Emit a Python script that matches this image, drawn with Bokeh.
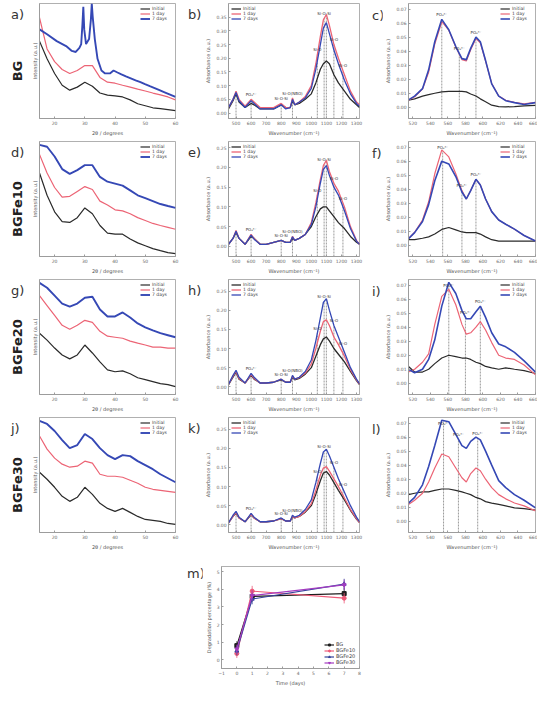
import numpy as np
from bokeh.plotting import figure
from bokeh.layouts import row, column, Spacer
from bokeh.models import Range1d, PrintfTickFormatter, Div
from bokeh.core.properties import value
from bokeh.embed import file_html
from bokeh.resources import INLINE

# ---------------- data ----------------
SERIES = ["Initial", "1 day", "7 days"]
SAMPLES = ["BG", "BGFe10", "BGFe20", "BGFe30"]
LETTERS = ["a)", "b)", "c)", "d)", "e)", "f)", "g)", "h)", "i)", "j)", "k)", "l)", "m)"]

# XRD (2theta, arbitrary intensity)
XRD_X = [15, 17.5, 20, 22.5, 25, 27.5, 30, 32.5, 35, 37.5, 40, 42.5, 45, 47.5, 50, 52.5, 55, 57.5, 60]
XRD_TICKS = [20, 30, 40, 50, 60]
A_BLUE_X = [15, 17.5, 20.7, 23.8, 25.7, 27.0, 28.2, 28.8, 29.2, 29.5, 29.8, 30.4, 31.4, 32.0, 32.3, 32.6, 33.3,
            34.2, 35.5, 36.7, 38.3, 39.5, 40.8, 42.1, 43.6, 45.2, 46.8, 48.4, 49.9, 51.5, 53.1, 54.7, 56.2, 57.8, 60]
A_BLUE = [79.8, 75.4, 69.3, 64.9, 60.5, 59.6, 63.2, 66.7, 84.2, 100, 79.8, 66.7, 71.1, 88.6, 103, 91.2, 71.1,
          53.5, 43, 40.4, 40.4, 43, 41.2, 39.5, 37.7, 36, 34.2, 32.5, 30.7, 28.9, 27.2, 25.4, 23.7, 21.9, 19.3]
A_RED = [90.3, 62.3, 50.9, 43.9, 40.3, 43, 47.4, 47.4, 36.8, 32.5, 31.6, 29.8, 28.1, 26.3, 24.6, 22.8, 21.1, 19.3, 16.7]
A_BLACK = [69.3, 53.5, 40.3, 29.8, 25.4, 28.1, 32.4, 28.9, 22.8, 21, 20.2, 19.3, 16.7, 13.2, 11.4, 9.6, 8.8, 7.9, 7.0]
D_BLUE = [100, 98.3, 89.6, 78.3, 74, 77.4, 81.8, 81.8, 71.3, 67, 65.3, 63.5, 59.2, 54.8, 52.2, 49.6, 47, 45.2, 43.5]
D_RED = [91.4, 74.8, 61.8, 53.1, 53.9, 58.3, 62.6, 60, 49.6, 46.1, 41.8, 40.9, 38.3, 34.8, 32.2, 29.6, 27.8, 26.1, 24.4]
D_BLACK = [74.8, 54.8, 40, 31.3, 30.5, 34.8, 43.5, 38.3, 27.8, 20.9, 20, 20, 15.7, 12.2, 9.6, 7, 5.2, 3.5, 2.6]
G_BLUE = [100, 95.6, 88.5, 81.4, 78.8, 81.4, 86.7, 87.6, 76.1, 69.9, 69.9, 73.5, 69, 63.7, 60.2, 57.5, 54.9, 53.1, 51.3]
G_RED = [88.5, 79.7, 70.8, 62, 58.4, 62, 66.4, 64.6, 56.6, 52.2, 51.3, 50.4, 47.8, 46, 44.3, 42.5, 42.5, 41.6, 41.6]
G_BLACK = [54.9, 48.7, 41.6, 35.4, 31.9, 35.4, 44.3, 37.2, 29.2, 22.1, 20.4, 21.2, 18.6, 15, 13.3, 11.5, 9.7, 8.8, 7.1]
J_BLUE = [100, 97.2, 90.9, 82.8, 75.6, 78.3, 88.2, 83.7, 75.6, 69.3, 65.7, 69.3, 68.4, 63.9, 60.3, 56.7, 52.2, 48.6, 45]
J_RED = [86.4, 74.7, 66.6, 61.2, 58.5, 59.4, 63.9, 62.1, 52.2, 50.4, 50.4, 49.5, 46.8, 44.1, 40.5, 38.7, 37.8, 36.9, 36]
J_BLACK = [54, 47.7, 40.5, 32.4, 27.9, 31.5, 40.5, 34.2, 26.1, 21.6, 18.9, 21.6, 18, 14.4, 11.7, 10.8, 9.9, 8.1, 7.2]

# FTIR (wavenumber, absorbance)
FTIR_W = [450, 480, 500, 520, 560, 600, 620, 660, 700, 750, 800, 830, 860, 875, 890, 920, 960, 1000, 1030,
          1060, 1080, 1100, 1120, 1150, 1180, 1220, 1260, 1300, 1320]
FTIR_TICKS = [500, 600, 700, 800, 900, 1000, 1100, 1200, 1300]
FTIR_PEAKS = [500, 600, 800, 875, 1040, 1085, 1100, 1150, 1210]
FTIR_LABELS = ["", "PO\u2084\u00b3\u207b", "Si-O-Si", "Si-O(NBO)", "Si-O", "Si-O-Si", "", "Si-O", "Si-O"]
B_RED = [0.02, 0.05, 0.08, 0.05, 0.025, 0.05, 0.04, 0.02, 0.02, 0.02, 0.035, 0.02, 0.02, 0.055, 0.03, 0.04, 0.06,
         0.10, 0.18, 0.28, 0.34, 0.36, 0.32, 0.25, 0.20, 0.14, 0.08, 0.04, 0.03]
B_BLUE = [0.02, 0.05, 0.075, 0.045, 0.02, 0.045, 0.035, 0.015, 0.015, 0.015, 0.03, 0.015, 0.02, 0.05, 0.03, 0.04,
          0.055, 0.09, 0.16, 0.25, 0.31, 0.33, 0.29, 0.23, 0.18, 0.12, 0.07, 0.035, 0.025]
B_BLACK = [0.015, 0.045, 0.07, 0.04, 0.02, 0.035, 0.03, 0.015, 0.015, 0.015, 0.03, 0.02, 0.02, 0.045, 0.03, 0.035,
           0.05, 0.07, 0.11, 0.16, 0.18, 0.19, 0.18, 0.14, 0.11, 0.08, 0.05, 0.03, 0.02]
E_RED = [0.005, 0.02, 0.04, 0.02, 0.005, 0.03, 0.02, 0.005, 0.005, 0.01, 0.015, 0.01, 0.01, 0.025, 0.015, 0.02,
         0.03, 0.06, 0.11, 0.17, 0.205, 0.218, 0.19, 0.16, 0.14, 0.10, 0.05, 0.015, 0.005]
E_BLUE = [0.005, 0.02, 0.038, 0.02, 0.005, 0.028, 0.018, 0.005, 0.005, 0.01, 0.015, 0.01, 0.01, 0.024, 0.015, 0.02,
          0.03, 0.055, 0.10, 0.16, 0.195, 0.205, 0.18, 0.15, 0.13, 0.09, 0.045, 0.013, 0.005]
E_BLACK = [0.005, 0.02, 0.035, 0.02, 0.005, 0.025, 0.02, 0.005, 0.005, 0.01, 0.015, 0.01, 0.01, 0.02, 0.015, 0.02,
           0.03, 0.05, 0.075, 0.095, 0.10, 0.10, 0.09, 0.075, 0.06, 0.045, 0.025, 0.01, 0.005]
H_BLUE = [0.006, 0.03, 0.043, 0.025, 0.01, 0.035, 0.025, 0.01, 0.01, 0.012, 0.02, 0.012, 0.012, 0.03, 0.02, 0.025,
          0.04, 0.07, 0.12, 0.18, 0.22, 0.23, 0.20, 0.16, 0.13, 0.09, 0.05, 0.02, 0.008]
H_RED = [0.006, 0.028, 0.04, 0.022, 0.01, 0.032, 0.022, 0.01, 0.01, 0.012, 0.02, 0.012, 0.012, 0.028, 0.02, 0.024,
         0.036, 0.06, 0.10, 0.145, 0.17, 0.175, 0.16, 0.13, 0.11, 0.08, 0.045, 0.018, 0.007]
H_BLACK = [0.006, 0.025, 0.038, 0.02, 0.01, 0.03, 0.02, 0.01, 0.01, 0.012, 0.018, 0.012, 0.012, 0.025, 0.018, 0.022,
           0.033, 0.05, 0.08, 0.11, 0.125, 0.13, 0.12, 0.10, 0.085, 0.065, 0.04, 0.016, 0.006]
K_BLUE = [0.005, 0.025, 0.035, 0.02, 0.008, 0.03, 0.02, 0.008, 0.008, 0.01, 0.018, 0.01, 0.01, 0.025, 0.02, 0.025,
          0.04, 0.065, 0.11, 0.16, 0.19, 0.197, 0.18, 0.15, 0.12, 0.085, 0.05, 0.02, 0.008]
K_RED = [0.005, 0.022, 0.032, 0.018, 0.008, 0.028, 0.018, 0.008, 0.008, 0.01, 0.016, 0.01, 0.01, 0.022, 0.018, 0.022,
         0.035, 0.055, 0.09, 0.13, 0.148, 0.152, 0.14, 0.12, 0.10, 0.07, 0.04, 0.016, 0.006]
K_BLACK = [0.005, 0.022, 0.03, 0.018, 0.008, 0.026, 0.018, 0.008, 0.008, 0.01, 0.016, 0.01, 0.01, 0.02, 0.018, 0.022,
           0.033, 0.05, 0.08, 0.115, 0.135, 0.139, 0.13, 0.11, 0.09, 0.065, 0.038, 0.015, 0.006]

# FTIR detail 515-660 cm-1
PO_W = [515, 522, 531, 538, 545, 553, 561, 569, 576, 581, 586, 592, 597, 603, 610, 618, 626, 636, 647, 660]
PO_TICKS = [520, 540, 560, 580, 600, 620, 640, 660]
C_BLUE = [0.0053, 0.008, 0.0133, 0.0267, 0.0467, 0.0627, 0.0553, 0.0433, 0.0347, 0.034, 0.042, 0.05, 0.0467,
          0.0333, 0.0167, 0.008, 0.0047, 0.0033, 0.002, 0.0033]
C_RED = [0.005, 0.0075, 0.013, 0.025, 0.045, 0.061, 0.055, 0.043, 0.034, 0.033, 0.041, 0.049, 0.046, 0.033, 0.017,
         0.008, 0.005, 0.0035, 0.0025, 0.0035]
C_BLACK = [0.005, 0.006, 0.008, 0.009, 0.010, 0.011, 0.0113, 0.0113, 0.0113, 0.011, 0.0095, 0.008, 0.006, 0.004,
           0.0015, 0.0005, 0.0003, 0.0005, 0.001, 0.0013]
F_RED = [0.0047, 0.0093, 0.018, 0.031, 0.051, 0.068, 0.063, 0.051, 0.039, 0.033, 0.039, 0.047, 0.043, 0.033, 0.024,
         0.018, 0.015, 0.0115, 0.007, 0.003]
F_BLUE = [0.0047, 0.009, 0.017, 0.029, 0.046, 0.060, 0.058, 0.049, 0.038, 0.033, 0.039, 0.047, 0.043, 0.033, 0.024,
          0.018, 0.015, 0.0115, 0.007, 0.003]
F_BLACK = [0.004, 0.004, 0.005, 0.006, 0.008, 0.0113, 0.0127, 0.011, 0.0095, 0.009, 0.009, 0.009, 0.008, 0.006,
           0.004, 0.003, 0.003, 0.003, 0.003, 0.003]
I_BLUE = [0.01, 0.0075, 0.01, 0.017, 0.031, 0.055, 0.072, 0.064, 0.052, 0.046, 0.046, 0.051, 0.055, 0.047, 0.036,
          0.028, 0.026, 0.022, 0.016, 0.008]
I_RED = [0.008, 0.01, 0.015, 0.021, 0.042, 0.062, 0.067, 0.056, 0.042, 0.035, 0.036, 0.04, 0.044, 0.038, 0.029,
         0.02, 0.018, 0.017, 0.013, 0.006]
I_BLACK = [0.012, 0.008, 0.008, 0.01, 0.014, 0.018, 0.02, 0.019, 0.018, 0.018, 0.017, 0.015, 0.014, 0.012, 0.011,
           0.01, 0.011, 0.01, 0.009, 0.007]
L_BLUE = [0.013, 0.017, 0.026, 0.039, 0.054, 0.072, 0.071, 0.062, 0.054, 0.052, 0.057, 0.06, 0.058, 0.05, 0.04,
          0.029, 0.024, 0.019, 0.015, 0.0096]
L_RED = [0.012, 0.015, 0.02, 0.028, 0.038, 0.048, 0.046, 0.038, 0.031, 0.028, 0.034, 0.038, 0.036, 0.03, 0.024,
         0.019, 0.016, 0.013, 0.011, 0.0074]
L_BLACK = [0.019, 0.02, 0.021, 0.021, 0.022, 0.023, 0.023, 0.022, 0.021, 0.02, 0.019, 0.017, 0.016, 0.014, 0.013,
           0.012, 0.011, 0.0096, 0.009, 0.008]
C_PEAKS = [553, 573, 592]
F_PEAKS = [554, 576, 592]
I_PEAKS = [561, 580, 597]
L_PEAKS = [555, 572, 594]
PO_LABELS = ["PO\u2084\u00b3\u207b", "PO\u2084\u00b3\u207b", "PO\u2084\u00b3\u207b"]

# degradation over time
M_DAYS = [0, 1, 7]
M_BG = [0.8, 3.6, 3.76]
M_FE10 = [0.35, 3.9, 3.5]
M_FE20 = [0.5, 3.45, 4.3]
M_FE30 = [0.6, 3.65, 4.25]
M_ERR = [0.25, 0.3, 0.3]

# ---------------- style ----------------
BLACK, RED, BLUE = "#2a2a2a", "#ec6475", "#3548b5"
SER_COL = [BLACK, RED, BLUE]
FONT = "DejaVu Sans"
ROW_H = 138
TOP, BOT = 3, 20
FH = ROW_H - TOP - BOT


def base_fig(width, left, right, xr, yr, height=ROW_H, top=TOP, bottom=BOT):
    p = figure(width=width, height=height, x_range=Range1d(*xr), y_range=Range1d(*yr),
               output_backend="svg", toolbar_location=None, margin=0,
               min_border_left=left, min_border_right=right, min_border_top=top, min_border_bottom=bottom)
    p.xgrid.visible = False
    p.ygrid.visible = False
    p.outline_line_color = "#9c9c9c"
    p.outline_line_width = 0.8
    for ax in p.axis:
        ax.axis_line_color = "#9c9c9c"
        ax.major_tick_line_color = "#9c9c9c"
        ax.minor_tick_line_color = None
        ax.major_tick_in = 2
        ax.major_tick_out = 0
        ax.major_label_text_font_size = "4.5px"
        ax.major_label_text_color = "#666666"
        ax.major_label_text_font = FONT
        ax.major_label_standoff = 2
        ax.axis_label_text_font_size = "5px"
        ax.axis_label_text_font_style = "normal"
        ax.axis_label_text_color = "#555555"
        ax.axis_label_text_font = FONT
        ax.axis_label_standoff = 2
    return p


def side_div(w, h, letter, dx, top, name=None, nx=None):
    span = ("position:absolute;font-family:'DejaVu Sans',sans-serif;font-size:13px;line-height:1;"
            "white-space:nowrap;")
    parts = ['<span style="%sleft:%dpx;top:%dpx;color:#333333">%s</span>' % (span, dx, top, letter)]
    if name is not None:
        parts.append('<span style="%sleft:%dpx;top:%dpx;font-weight:bold;color:#222222;'
                     'transform:translate(-50%%,-50%%) rotate(-90deg)">%s</span>' % (span, nx, h // 2 + 2, name))
    html = '<div style="position:relative;width:%dpx;height:%dpx">%s</div>' % (w, h, "".join(parts))
    return Div(text=html, width=w, height=h, margin=0, styles={"overflow": "visible"})


def style_legend(p, loc):
    lg = p.legend[0]
    lg.location = loc
    lg.label_text_font_size = "4.5px"
    lg.label_text_font = FONT
    lg.glyph_width = 10
    lg.glyph_height = 5
    lg.label_height = 5
    lg.label_standoff = 2
    lg.spacing = 0
    lg.padding = 2
    lg.margin = 3
    lg.border_line_color = None
    lg.background_fill_alpha = 0


def xrd_panel(xs_list, ys_list):
    p = base_fig(159, 6, 12, (15, 60), (0, 103))
    p.xaxis.ticker = XRD_TICKS
    p.yaxis.ticker = []
    p.xaxis.axis_label = "2\u03b8 / degrees"
    p.yaxis.axis_label = "Intensity (a.u.)"
    widths = [1.2, 1.2, 1.9]
    for xs, ys, lab, col, w in zip(xs_list, ys_list, SERIES, SER_COL, widths):
        p.line(xs, ys, line_color=col, line_width=w, legend_label=lab)
    style_legend(p, "top_right")
    return p


def ftir_panel(ys_list, yr):
    p = base_fig(170, 14, 13, (450, 1320), yr)
    p.xaxis.ticker = FTIR_TICKS
    p.yaxis.ticker = [0, 0.05, 0.10, 0.15, 0.20, 0.25, 0.30, 0.35]
    p.yaxis.formatter = PrintfTickFormatter(format="%.2f")
    p.xaxis.axis_label = "Wavenumber (cm\u207b\u00b9)"
    p.yaxis.axis_label = "Absorbance (a.u.)"
    top_vals = [max(np.interp(w, FTIR_W, ys) for ys in ys_list) for w in FTIR_PEAKS]
    p.segment(x0=FTIR_PEAKS, y0=[yr[0]] * len(FTIR_PEAKS), x1=FTIR_PEAKS, y1=top_vals,
              line_color="#555555", line_dash="2 1", line_width=0.6)
    for ys, lab, col in zip(ys_list, SERIES, SER_COL):
        p.line(FTIR_W, ys, line_color=col, line_width=1.3, legend_label=lab)
    span = yr[1] - yr[0]
    p.text(x=FTIR_PEAKS, y=[min(t + span * 0.02, yr[1] - span * 0.06) for t in top_vals], text=FTIR_LABELS,
           text_font_size="4px", text_font=value(FONT), text_color="#333333",
           text_align="center", text_baseline="bottom")
    style_legend(p, "top_left")
    return p


def po_panel(ys_list, peaks):
    yr = (-0.008, 0.074)
    p = base_fig(155, 18, 2, (515, 660), yr)
    p.xaxis.ticker = PO_TICKS
    p.yaxis.ticker = [0, 0.01, 0.02, 0.03, 0.04, 0.05, 0.06, 0.07]
    p.yaxis.formatter = PrintfTickFormatter(format="%.2f")
    p.xaxis.axis_label = "Wavenumber (cm\u207b\u00b9)"
    p.yaxis.axis_label = "Absorbance (a.u.)"
    top_vals = [max(np.interp(w, PO_W, ys) for ys in ys_list) for w in peaks]
    p.segment(x0=peaks, y0=[yr[0]] * len(peaks), x1=peaks, y1=top_vals,
              line_color="#555555", line_dash="2 1", line_width=0.6)
    widths = [1.2, 1.2, 1.6]
    for ys, lab, col, w in zip(ys_list, SERIES, SER_COL, widths):
        p.line(PO_W, ys, line_color=col, line_width=w, legend_label=lab)
    p.text(x=peaks, y=[min(t + 0.0015, yr[1] - 0.006) for t in top_vals], text=PO_LABELS,
           text_font_size="4px", text_font=value(FONT), text_color="#333333",
           text_align="center", text_baseline="bottom")
    style_legend(p, "top_right")
    return p


pa = xrd_panel([XRD_X, XRD_X, A_BLUE_X], [A_BLACK, A_RED, A_BLUE])
pd = xrd_panel([XRD_X] * 3, [D_BLACK, D_RED, D_BLUE])
pg = xrd_panel([XRD_X] * 3, [G_BLACK, G_RED, G_BLUE])
pj = xrd_panel([XRD_X] * 3, [J_BLACK, J_RED, J_BLUE])

pb = ftir_panel([B_BLACK, B_RED, B_BLUE], (-0.02, 0.40))
pe = ftir_panel([E_BLACK, E_RED, E_BLUE], (-0.026, 0.266))
ph = ftir_panel([H_BLACK, H_RED, H_BLUE], (-0.02, 0.28))
pk = ftir_panel([K_BLACK, K_RED, K_BLUE], (-0.02, 0.28))

pc = po_panel([C_BLACK, C_RED, C_BLUE], C_PEAKS)
pf = po_panel([F_BLACK, F_RED, F_BLUE], F_PEAKS)
pi = po_panel([I_BLACK, I_RED, I_BLUE], I_PEAKS)
pl = po_panel([L_BLACK, L_RED, L_BLUE], L_PEAKS)

# panel m
MH = 136
pm = base_fig(170, 14, 13, (-1, 8), (-0.5, 5.3), height=MH, top=14, bottom=16)
pm.xaxis.ticker = list(range(-1, 9))
pm.yaxis.ticker = [0, 1, 2, 3, 4, 5]
pm.xaxis.axis_label = "Time (days)"
pm.yaxis.axis_label = "Degradation percentage (%)"
M_COL = ["#1e1e1e", "#ee5a78", "#34449c", "#a43cc0"]
M_MARK = ["square", "circle", "triangle", "inverted_triangle"]
for vals, lab, col, mk in zip([M_BG, M_FE10, M_FE20, M_FE30], SAMPLES, M_COL, M_MARK):
    pm.segment(x0=M_DAYS, y0=[v - e for v, e in zip(vals, M_ERR)], x1=M_DAYS,
               y1=[v + e for v, e in zip(vals, M_ERR)], line_color=col, line_width=0.8)
    pm.line(M_DAYS, vals, line_color=col, line_width=1.2, legend_label=lab)
    pm.scatter(M_DAYS, vals, marker=mk, size=4, fill_color=col, line_color=col, legend_label=lab)
style_legend(pm, "bottom_right")
pm.legend[0].label_text_font_size = "5px"

rows = []
panels = [(pa, pb, pc), (pd, pe, pf), (pg, ph, pi), (pj, pk, pl)]
for r, (p1, p2, p3) in enumerate(panels):
    rows.append(row(
        side_div(28, ROW_H, LETTERS[3 * r], 11, 8, SAMPLES[r], 17), p1,
        side_div(15, ROW_H, LETTERS[3 * r + 1], 1, 8), p2,
        side_div(10, ROW_H, LETTERS[3 * r + 2], 0, 9), p3,
        margin=0, spacing=0,
    ))
rows.append(row(Spacer(width=187, height=MH, margin=0), side_div(15, MH, LETTERS[12], 0, 15), pm,
                margin=0, spacing=0))

layout = column(*rows, margin=0, spacing=0)
open("out.html", "w").write(file_html(layout, INLINE))
